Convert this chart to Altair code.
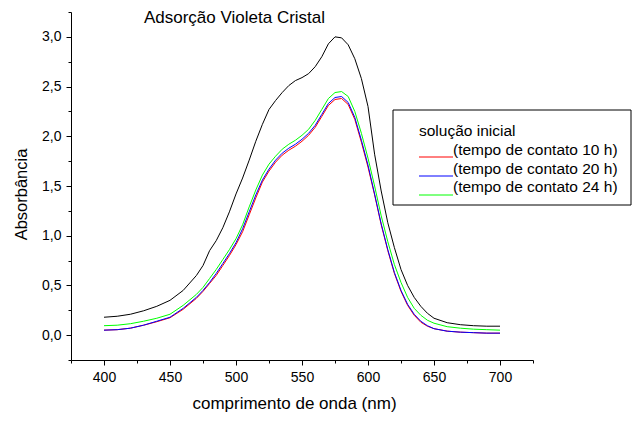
import altair as alt
import pandas as pd

WL = [400, 410, 420, 430, 440, 450, 460, 470, 475, 480, 485, 490, 495, 500, 505, 510, 515, 520,
      525, 530, 535, 540, 545, 550, 555, 560, 565, 570, 575, 580, 585, 590, 595, 600, 605, 610,
      615, 620, 625, 630, 635, 640, 645, 650, 660, 670, 680, 690, 700]

inicial = [0.18, 0.19, 0.21, 0.245, 0.29, 0.35, 0.45, 0.60, 0.70, 0.85, 0.95, 1.08, 1.24, 1.42, 1.58, 1.76,
           1.95, 2.12, 2.27, 2.36, 2.44, 2.51, 2.56, 2.59, 2.63, 2.70, 2.80, 2.93, 3.00, 2.99, 2.92, 2.78,
           2.58, 2.30, 1.82, 1.45, 1.13, 0.88, 0.66, 0.50, 0.38, 0.29, 0.22, 0.17, 0.125, 0.105, 0.095,
           0.09, 0.09]
h10 = [0.05, 0.055, 0.07, 0.10, 0.135, 0.175, 0.26, 0.37, 0.44, 0.52, 0.60, 0.70, 0.80, 0.91, 1.04, 1.21,
       1.38, 1.54, 1.65, 1.74, 1.81, 1.86, 1.90, 1.95, 2.01, 2.09, 2.20, 2.31, 2.37, 2.38, 2.32, 2.17,
       1.94, 1.69, 1.41, 1.11, 0.85, 0.62, 0.44, 0.30, 0.20, 0.13, 0.09, 0.065, 0.04, 0.03, 0.025, 0.02, 0.02]
h20 = [0.05, 0.055, 0.07, 0.10, 0.14, 0.18, 0.27, 0.38, 0.45, 0.53, 0.62, 0.72, 0.82, 0.93, 1.07, 1.24,
       1.41, 1.56, 1.67, 1.76, 1.83, 1.88, 1.92, 1.97, 2.03, 2.11, 2.22, 2.33, 2.39, 2.40, 2.34, 2.19,
       1.96, 1.71, 1.42, 1.12, 0.86, 0.63, 0.45, 0.31, 0.21, 0.14, 0.095, 0.065, 0.04, 0.03, 0.025, 0.02, 0.02]
h24 = [0.095, 0.10, 0.115, 0.14, 0.17, 0.21, 0.30, 0.41, 0.48, 0.57, 0.66, 0.76, 0.86, 0.97, 1.11, 1.29,
       1.46, 1.61, 1.72, 1.80, 1.87, 1.92, 1.96, 2.01, 2.07, 2.16, 2.27, 2.38, 2.44, 2.45, 2.40, 2.25,
       2.03, 1.78, 1.50, 1.20, 0.94, 0.71, 0.53, 0.38, 0.27, 0.20, 0.15, 0.12, 0.085, 0.07, 0.06, 0.055, 0.05]

SERIES = ["solução inicial", "(tempo de contato 10 h)", "(tempo de contato 20 h)", "(tempo de contato 24 h)"]
COLORS = ["#000000", "#FF0000", "#0000FF", "#00FF00"]
VALUES = [inicial, h10, h20, h24]

X_MAJOR = [400, 450, 500, 550, 600, 650, 700]
X_MINOR = [375, 425, 475, 525, 575, 625, 675, 725]
Y_MAJOR = [0.0, 0.5, 1.0, 1.5, 2.0, 2.5, 3.0]
Y_MINOR = [-0.25, 0.25, 0.75, 1.25, 1.75, 2.25, 2.75, 3.25]

rows = []
for name, vals in zip(SERIES, VALUES):
    for w, v in zip(WL, vals):
        rows.append({"wl": w, "abs": v, "serie": name})
df = pd.DataFrame(rows)

FONT = "Liberation Sans"
xscale = alt.Scale(domain=[375, 725], nice=False, zero=False)
yscale = alt.Scale(domain=[-0.25, 3.25], nice=False, zero=False)
lab = "replace(format(datum.value, '.1f'), '.', ',')"

x_major = alt.Axis(values=X_MAJOR, title="comprimento de onda (nm)", grid=False, tickSize=5,
                   domainColor="black", tickColor="black", labelColor="black", labelFontSize=14,
                   labelFont=FONT, titleFont=FONT, titleFontSize=17, titleFontWeight="normal",
                   titleColor="black", labelPadding=5, titleX=223, titleY=43, titleBaseline="middle",
                   orient="bottom")
y_major = alt.Axis(values=Y_MAJOR, title="Absorbância", grid=False, tickSize=5, labelExpr=lab,
                   domainColor="black", tickColor="black", labelColor="black", labelFontSize=14,
                   labelFont=FONT, titleFont=FONT, titleFontSize=16.5, titleFontWeight="normal",
                   titleColor="black", labelPadding=5, titleX=-50, titleY=182, titleAngle=-90,
                   titleAlign="center", titleBaseline="middle", orient="left")
x_minor = alt.Axis(values=X_MINOR, labels=False, title=None, tickSize=3, domain=False, grid=False,
                   tickColor="black", orient="bottom")
y_minor = alt.Axis(values=Y_MINOR, labels=False, title=None, tickSize=3, domain=False, grid=False,
                   tickColor="black", orient="left")

base = alt.Chart(df)
layers = []
draw_order = [1, 2, 3, 0]
for i, k in enumerate(draw_order):
    name = SERIES[k]
    enc_x = alt.X("wl:Q", scale=xscale, axis=x_major if i == 0 else None)
    enc_y = alt.Y("abs:Q", scale=yscale, axis=y_major if i == 0 else None)
    layers.append(
        base.transform_filter(alt.datum.serie == name)
        .mark_line(strokeWidth=1, color=COLORS[k], clip=False)
        .encode(x=enc_x, y=enc_y)
    )

minor = base.mark_point(opacity=0).encode(
    x=alt.X("wl:Q", scale=xscale, axis=x_minor),
    y=alt.Y("abs:Q", scale=yscale, axis=y_minor),
)

one = pd.DataFrame({"k": [0]})
anno = alt.Chart(one)
title = anno.mark_text(text="Adsorção Violeta Cristal", font=FONT, fontSize=17, color="black",
                       align="center", baseline="alphabetic").encode(x=alt.value(163.5), y=alt.value(11))
box = anno.mark_rect(fill="white", stroke="black", strokeWidth=1).encode(
    x=alt.value(322), x2=alt.value(560), y=alt.value(98), y2=alt.value(193))

leg = [box]
text_y = [119, 138, 156.5, 175]
line_y = [145, 164, 183]
leg.append(anno.mark_text(text=SERIES[0], font=FONT, fontSize=15.5, color="black", align="left",
                          baseline="middle").encode(x=alt.value(348), y=alt.value(text_y[0])))
for j in range(1, 4):
    leg.append(anno.mark_rule(color=COLORS[j], strokeWidth=1).encode(
        x=alt.value(348), x2=alt.value(382), y=alt.value(line_y[j - 1])))
    leg.append(anno.mark_text(text=SERIES[j], font=FONT, fontSize=15.5, color="black", align="left",
                              baseline="middle").encode(x=alt.value(382), y=alt.value(text_y[j])))

chart = alt.layer(*layers, minor).resolve_axis(x="independent", y="independent")
chart = alt.layer(chart, title, *leg).properties(
    width=462, height=348,
    padding={"left": 71, "top": 12, "right": 99, "bottom": 61},
    autosize=alt.AutoSizeParams(type="none"),
    background="white",
).configure_view(stroke="transparent", strokeWidth=0)

chart.save("out.html", embed_options={"renderer": "svg", "actions": False})
